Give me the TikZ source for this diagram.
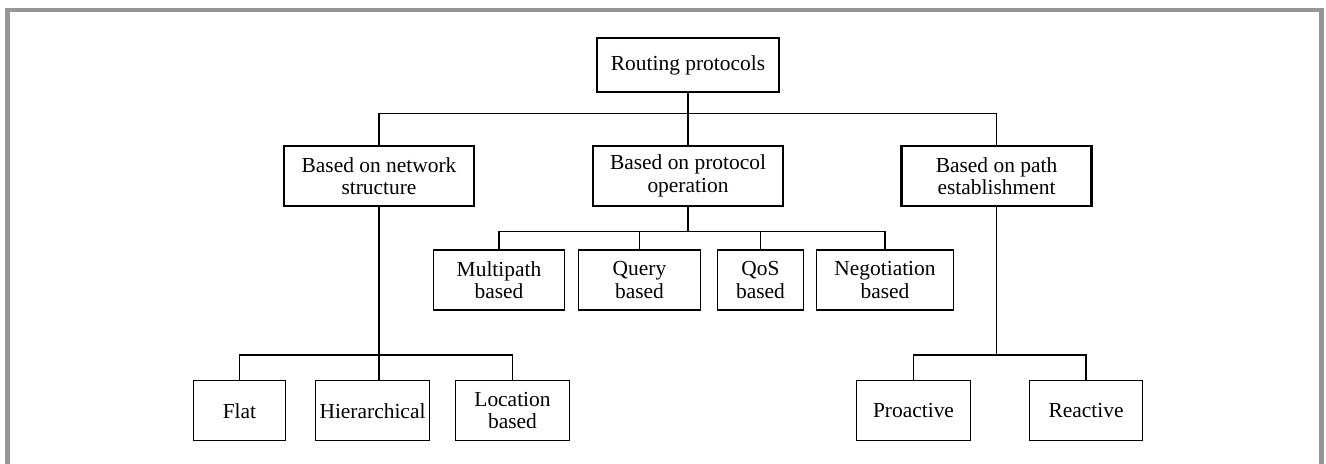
\documentclass[tikz,border=0pt]{standalone}
\usepackage{fontspec}
\setmainfont{Liberation Serif}
\definecolor{framegray}{RGB}{150,150,150}

\tikzset{
    box/.style={draw,black,align=center,inner sep=0pt,font=\fontsize{12.2}{12.8}\selectfont},
    topbox/.style={box,line width=1.3pt},
    leafbox/.style={box,line width=0.75pt,minimum height=1.2cm},
    link/.style={black,line width=0.7pt}
}

\begin{document}
\begin{tikzpicture}
    \useasboundingbox (0,0) rectangle (26.52,9.28);
    \draw[framegray,line width=0.09cm] (0.15,-0.3) -- (0.15,9.08) -- (26.43,9.08) -- (26.43,-0.3);

    \node[topbox,minimum width=3.64cm,minimum height=1.08cm] (root) at (13.76,7.98) {Routing protocols};

    \node[topbox,minimum width=3.8cm,minimum height=1.2cm] (net) at (7.58,5.76) {Based on network\\structure};
    \node[topbox,minimum width=3.8cm,minimum height=1.2cm] (op) at (13.76,5.76) {Based on protocol\\operation};
    \node[topbox,minimum width=3.8cm,minimum height=1.2cm] (path) at (19.93,5.76) {Based on path\\establishment};

    \node[leafbox,minimum width=2.63cm] (multi) at (9.98,3.68) {Multipath\\based};
    \node[leafbox,minimum width=2.45cm] (query) at (12.79,3.68) {Query\\based};
    \node[leafbox,minimum width=1.72cm] (qos) at (15.21,3.68) {QoS\\based};
    \node[leafbox,minimum width=2.74cm] (nego) at (17.70,3.68) {Negotiation\\based};

    \node[leafbox,minimum width=1.84cm] (flat) at (4.79,1.066) {Flat};
    \node[leafbox,minimum width=2.27cm] (hier) at (7.45,1.066) {Hierarchical};
    \node[leafbox,minimum width=2.28cm] (loc) at (10.25,1.066) {Location\\based};

    \node[leafbox,minimum width=2.27cm] (pro) at (18.27,1.066) {Proactive};
    \node[leafbox,minimum width=2.27cm] (rea) at (21.72,1.066) {Reactive};

    \coordinate (rootbus) at (13.76,7.014);
    \coordinate (opbus) at (13.76,4.646);
    \coordinate (netbus) at (7.58,2.18);
    \coordinate (pathbus) at (19.93,2.18);

    \draw[link] (root.south) -- (rootbus) -- (op.north);
    \draw[link] (net.north) |- (rootbus) -| (path.north);

    \draw[link] (op.south) -- (opbus);
    \draw[link] (multi.north) |- (opbus) -| (nego.north);
    \draw[link] (query.north) -- (query.north |- opbus);
    \draw[link] (qos.north) -- (qos.north |- opbus);

    \draw[link] (net.south) -- (net.south |- hier.north);
    \draw[link] (flat.north) |- (netbus) -| (loc.north);

    \draw[link] (path.south) -- (pathbus);
    \draw[link] (pro.north) |- (pathbus) -| (rea.north);
\end{tikzpicture}
\end{document}
